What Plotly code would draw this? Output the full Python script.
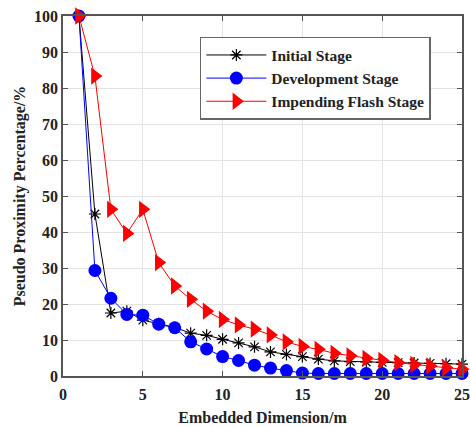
import plotly.graph_objects as go

dims = list(range(1, 26))
initial = [100, 45, 17.5, 18, 15.5, 14.5, 13.5, 11.9, 11.3, 10.2, 9.2, 8.1, 6.7, 6.0, 5.4, 4.7, 4.2, 4.0, 3.9, 3.8, 3.7, 3.6, 3.5, 3.4, 3.3]
development = [100, 29.3, 21.6, 17.1, 16.9, 14.4, 13.4, 9.5, 7.5, 5.4, 4.3, 3.0, 2.2, 1.5, 0.8, 0.7, 0.7, 0.7, 0.7, 0.7, 0.7, 0.7, 0.7, 0.7, 0.7]
flash = [100, 83.3, 46.3, 39.6, 46.3, 31.5, 25.0, 21.3, 18.0, 15.7, 14.2, 13.0, 11.4, 9.5, 8.2, 7.4, 6.3, 5.6, 4.9, 4.3, 3.7, 3.2, 2.8, 2.3, 1.9]
x_ticks = [0, 5, 10, 15, 20, 25]
y_ticks = list(range(0, 101, 10))

font_family = "Liberation Serif"

fig = go.Figure()
fig.add_trace(go.Scatter(
    x=dims, y=initial, name="<b>Initial Stage</b>", mode="lines+markers",
    line=dict(color="black", width=1),
    marker=dict(symbol="asterisk-open", size=10, color="black", line=dict(color="black", width=1.2)),
    cliponaxis=False))
fig.add_trace(go.Scatter(
    x=dims, y=development, name="<b>Development Stage</b>", mode="lines+markers",
    line=dict(color="blue", width=1),
    marker=dict(symbol="circle", size=13, color="blue"),
    cliponaxis=False))
fig.add_trace(go.Scatter(
    x=dims, y=flash, name="<b>Impending Flash Stage</b>", mode="lines+markers",
    line=dict(color="red", width=1),
    marker=dict(symbol="triangle-right", size=15, color="red"),
    cliponaxis=False))

axis_common = dict(
    showgrid=True, gridcolor="#e3e3e3", gridwidth=1,
    showline=True, linecolor="#555555", linewidth=1.5, mirror="ticks",
    ticks="inside", ticklen=5, tickcolor="#555555",
    tickfont=dict(family=font_family, size=16, color="#222222"),
    zeroline=False, automargin=False,
)

fig.update_layout(
    width=470, height=427,
    margin=dict(l=63, r=8, t=16, b=51),
    paper_bgcolor="white", plot_bgcolor="white",
    font=dict(family=font_family, color="#222222"),
    showlegend=True,
    legend=dict(
        x=0.343, y=0.942, xanchor="left", yanchor="top",
        bgcolor="white", bordercolor="#666666", borderwidth=1.5,
        font=dict(family=font_family, size=15.5, color="#222222"),
        itemwidth=60, tracegroupgap=0,
    ),
    xaxis=dict(range=[0, 25], tickvals=x_ticks, ticktext=[f"<b>{v}</b>" for v in x_ticks],
               ticklabelstandoff=3,
               title=dict(text="<b>Embedded Dimension/m</b>", font=dict(family=font_family, size=16, color="#222222"), standoff=10),
               **axis_common),
    yaxis=dict(range=[0, 100], tickvals=y_ticks, ticktext=[f"<b>{v}</b>" for v in y_ticks],
               title=dict(text="<b>Pseudo Proximity Percentage/%</b>", font=dict(family=font_family, size=16, color="#222222"), standoff=4),
               **axis_common),
)

fig.write_html("out.html")
